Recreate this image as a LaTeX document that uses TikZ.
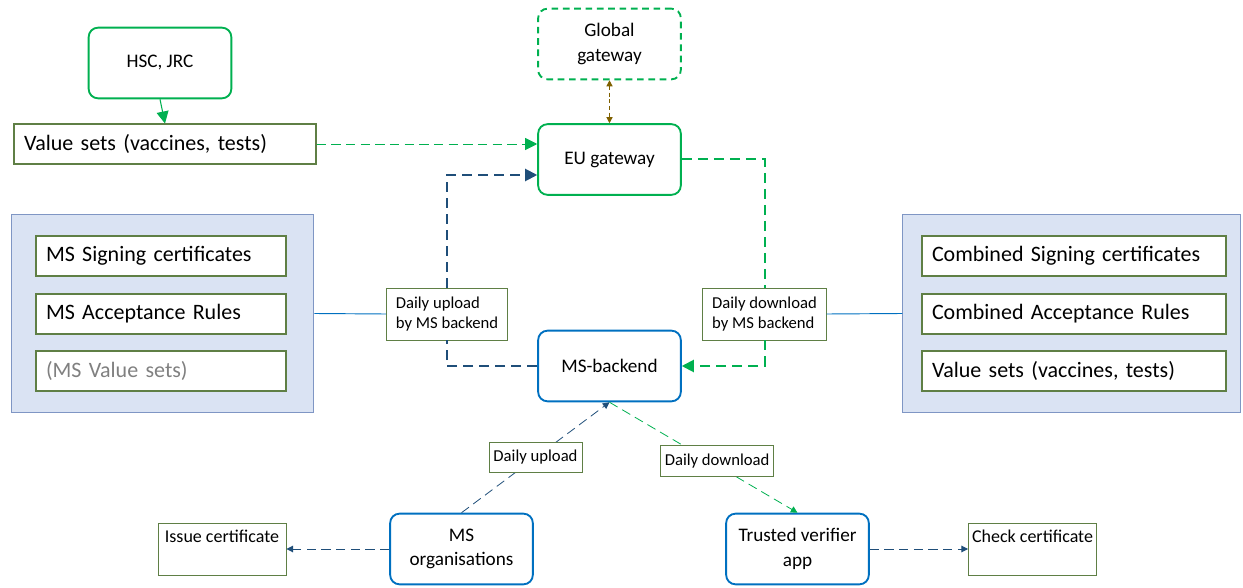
\documentclass[tikz,border=0pt]{standalone}
\usepackage{fontspec}
\setmainfont{Carlito}
\usetikzlibrary{arrows.meta}
\definecolor{gwgreen}{HTML}{00B050}
\definecolor{msblue}{HTML}{0070C0}
\definecolor{dkblue}{HTML}{1F4E79}
\definecolor{olivedraw}{HTML}{5F7F45}
\definecolor{panelfill}{HTML}{DAE3F3}
\definecolor{paneldraw}{HTML}{7F96C4}
\definecolor{gwbrown}{HTML}{7F6000}
\tikzset{gw/.style={draw=gwgreen,line width=1.4pt,rounded corners=7pt,minimum width=107pt,minimum height=53pt,align=center,font=\fontsize{14.4}{18.5}\selectfont},
 ms/.style={gw,draw=msblue},
 item/.style={draw=olivedraw,fill=white,line width=.8pt,minimum height=30pt,inner xsep=7.5pt,align=left,font=\fontsize{16.5}{19.8}\selectfont},
 panel/.style={draw=paneldraw,fill=panelfill,line width=.8pt,minimum width=227pt,minimum height=149pt},
 lbl/.style={draw=olivedraw,fill=white,line width=.7pt,align=left,inner xsep=7pt,minimum height=39pt,font=\fontsize{12.5}{15}\selectfont},
 smlbl/.style={draw=olivedraw,fill=white,solid,text=black,line width=.7pt,minimum height=23pt,font=\fontsize{12.5}{15}\selectfont},
 certbox/.style={draw=olivedraw,line width=.7pt,minimum width=96pt,minimum height=39pt},
 thickflow/.style={line width=1.5pt,dash pattern=on 7.5pt off 4.5pt},
 thinflow/.style={line width=.7pt,dash pattern=on 7pt off 4pt},
 tip/.style={-{Triangle[length=9pt,width=9pt]}},
 smalltip/.style={-{Triangle[length=5pt,width=5pt]}}}

\begin{document}
\begin{tikzpicture}[x=.75pt,y=-.75pt]
 \useasboundingbox (0,0) rectangle (1243,588);
 % gateways and sources
 \node[gw] (hsc) at (160,63) {HSC, JRC};
 \node[gw,dash pattern=on 5pt off 3.5pt] (glob) at (609.5,44) {Global\\gateway};
 \node[gw] (eu) at (609.5,159.5) {EU gateway};
 \node[ms] (msb) at (609.5,366) {MS-backend};
 \node[item,minimum width=226.5pt,text width=211.5pt] (vsets) at (165,144) {Value sets (vaccines, tests)};
 % the two panels
 \node[panel] (lpanel) at (162.5,313.5) {};
 \node[item,text width=172.5pt] (lsign) at (161,256) {MS Signing certificates};
 \node[item,text width=172.5pt] (lrule) at (161,314) {MS Acceptance Rules};
 \node[item,text width=172.5pt,text=black!50] (lval) at (161,371) {(MS Value sets)};
 \node[panel,minimum width=253pt] (rpanel) at (1071.5,313.5) {};
 \node[item,text width=213pt] (rsign) at (1074,256) {Combined Signing certificates};
 \node[item,text width=213pt] (rrule) at (1074,314) {Combined Acceptance Rules};
 \node[item,text width=213pt] (rval) at (1074,371) {Value sets (vaccines, tests)};
 % labels on the backend links
 \node[lbl] (upl) at (447,314) {Daily upload\\by MS backend};
 \node[lbl] (dnl) at (764.5,314) {Daily download\\by MS backend};
 % organisations and apps
 \node[ms] (msorg) at (461.5,549) {MS\\organisations};
 \node[ms] (tva) at (797.5,549) {Trusted verifier\\app};
 \node[certbox,label={[anchor=north,font=\fontsize{13.5}{16}\selectfont,yshift=-2pt]north:Issue certificate}] (iss) at (222,549) {};
 \node[certbox,label={[anchor=north,font=\fontsize{13.5}{16}\selectfont,yshift=-2pt]north:Check certificate}] (chk) at (1032.5,549) {};

 \draw[tip,gwgreen,line width=.8pt] (hsc.south) -- (vsets.north);
 \draw[tip,gwgreen,thinflow] (vsets.east) -- (vsets.east -| eu.west);
 \draw[{Triangle[length=4.5pt,width=4.5pt]}-{Triangle[length=4.5pt,width=4.5pt]},gwbrown,line width=.8pt,dash pattern=on 3pt off 2pt] (glob.south) -- (eu.north);
 \draw[dkblue,thickflow] (msb.west) -| (upl.south);
 \draw[tip,dkblue,thickflow] (upl.north) |- (eu.west |- 0,175);
 \draw[gwgreen,thickflow] (eu.east) -| (dnl.north);
 \draw[tip,gwgreen,thickflow] (dnl.south) |- (msb.east);
 \draw[msblue,line width=.7pt] (lpanel.east) -- (upl.west);
 \draw[msblue,line width=.7pt] (dnl.east) -- (rpanel.west);
 \draw[smalltip,dkblue,thinflow,line width=.6pt] (msorg.north) -- node[smlbl] (upd) {Daily upload} (msb.south);
 \draw[smalltip,gwgreen,thinflow,line width=.6pt] (msb.south) -- node[smlbl,pos=.53,xshift=6pt] (dnd) {Daily download} (tva.north);
 \draw[smalltip,dkblue,thinflow] (msorg.west) -- (iss.east);
 \draw[smalltip,dkblue,thinflow] (tva.east) -- (chk.west);
\end{tikzpicture}
\end{document}
